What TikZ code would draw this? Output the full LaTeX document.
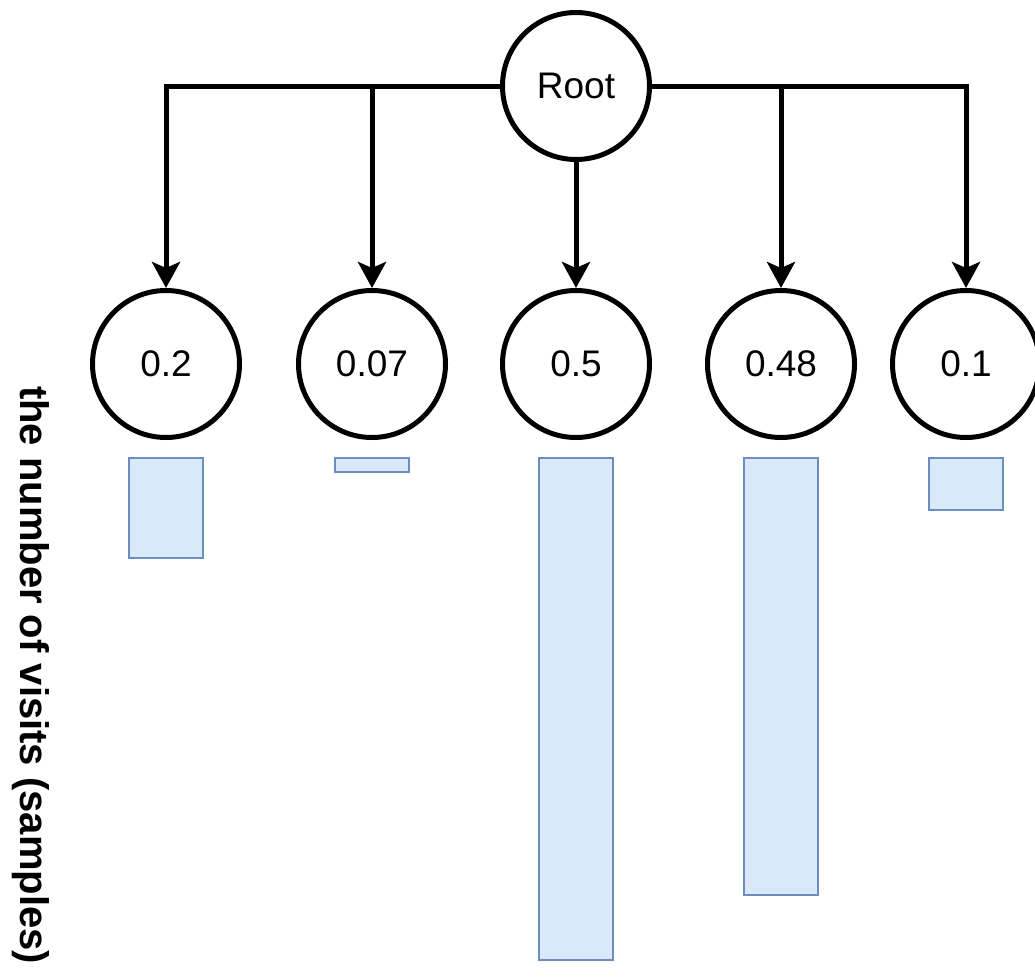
\documentclass[tikz,border=0pt]{standalone}
\usepackage{fontspec}
\setmainfont{Liberation Sans}
\usetikzlibrary{arrows.meta}
\definecolor{barfill}{HTML}{DAE8FC}
\definecolor{barline}{HTML}{6C8EBF}
\tikzset{
  treenode/.style={circle, draw, line width=5pt, minimum size=147pt, inner sep=0pt,
    font=\fontsize{37}{44}\selectfont},
  link/.style={line width=5pt, -{Stealth[length=26pt,width=28pt,inset=6pt]}},
  bar/.style={draw=barline, fill=barfill, line width=1.5pt},
}
\begin{document}
\begin{tikzpicture}[x=1pt, y=-1pt]
    \useasboundingbox (0,0) rectangle (1035,977);
    % 根节点
    \node[treenode] (root) at (576,86) {Root};
    % 子节点
    \node[treenode] (c1) at (166,364) {0.2};
    \node[treenode] (c2) at (372,364) {0.07};
    \node[treenode] (c3) at (576,364) {0.5};
    \node[treenode] (c4) at (781,364) {0.48};
    \node[treenode] (c5) at (966,364) {0.1};
    % 连线
    \draw[link] (root.west) -| (c1.north);
    \draw[link] (root.west) -| (c2.north);
    \draw[link] (root) -- (c3);
    \draw[link] (root.east) -| (c4.north);
    \draw[link] (root.east) -| (c5.north);
    % 访问次数
    \coordinate (bartop) at (0,458);
    \foreach \n/\h in {c1/100, c2/14, c3/502, c4/437, c5/52}
      \draw[bar] ([xshift=-37pt]\n |- bartop) rectangle ++(74,\h);
    % 纵轴标签
    \node[rotate=-90, font=\bfseries\fontsize{40}{48}\selectfont] (vlabel) at (31,675)
      {the number of visits (samples)};
\end{tikzpicture}
\end{document}
